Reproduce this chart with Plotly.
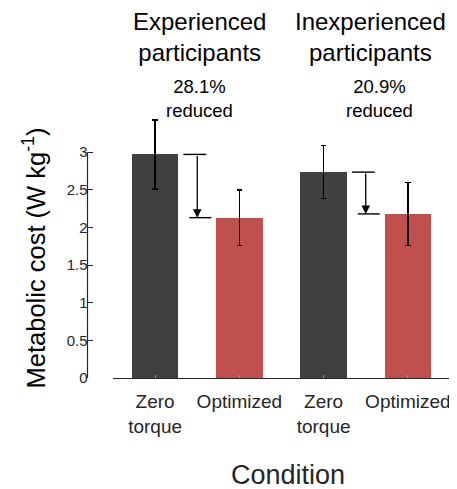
import plotly.graph_objects as go

# ---- data ----
categories = ["Zero<br>torque", "Optimized", "Zero<br>torque", "Optimized"]
positions = [1, 2, 3, 4]
means = [2.97, 2.13, 2.735, 2.18]
sds = [0.46, 0.37, 0.35, 0.42]
bar_colors = ["#404040", "#C0504D", "#404040", "#C0504D"]
group_titles = ["Experienced<br>participants", "Inexperienced<br>participants"]
group_title_x = [1.53, 3.56]
reductions = ["28.1%<br>reduced", "20.9%<br>reduced"]
reduction_x = [1.53, 3.66]
y_ticks = [0, 0.5, 1, 1.5, 2, 2.5, 3]
y_ticktext = ["0", "0.5", "1", "1.5", "2", "2.5", "3"]

FONT = "Liberation Sans, Arial, Helvetica, sans-serif"
TXT = "#262626"

fig = go.Figure()
fig.add_trace(go.Bar(
    x=positions, y=means, width=0.55,
    marker=dict(color=bar_colors, line=dict(width=0)),
    error_y=dict(type="data", array=sds, visible=True, color="black",
                 thickness=1.4, width=2.7),
    showlegend=False, hoverinfo="skip",
))

shapes = []
annotations = []
# reduction arrows between Zero torque (i) and Optimized (i+1)
for g in range(2):
    i0 = 2 * g
    top = means[i0]
    bot = means[i0 + 1]
    xa = positions[i0] + 0.5
    shapes.append(dict(type="line", xref="x", yref="y",
                       x0=xa - 0.165, x1=xa + 0.107, y0=top, y1=top,
                       line=dict(color="black", width=1.4)))
    shapes.append(dict(type="line", xref="x", yref="y",
                       x0=xa - 0.095, x1=xa + 0.167, y0=bot, y1=bot,
                       line=dict(color="black", width=1.4)))
    annotations.append(dict(x=xa, y=bot, ax=xa, ay=top, xref="x", yref="y",
                            axref="x", ayref="y", text="", showarrow=True,
                            arrowhead=2, arrowsize=1.3, arrowwidth=1.3,
                            arrowcolor="black", standoff=0, startstandoff=0))
    annotations.append(dict(x=group_title_x[g], y=1, xref="x", yref="paper",
                            yshift=101, yanchor="top", xanchor="center",
                            text=group_titles[g], showarrow=False,
                            font=dict(family=FONT, size=24, color="black")))
    annotations.append(dict(x=reduction_x[g], y=1, xref="x", yref="paper",
                            yshift=33, yanchor="top", xanchor="center",
                            text=reductions[g], showarrow=False,
                            font=dict(family=FONT, size=18.5, color="black")))

# y-axis line (offset MATLAB style), only from 0 to 3
shapes.append(dict(type="line", xref="paper", yref="y",
                   x0=0.0705, x1=0.0705, y0=y_ticks[0], y1=y_ticks[-1],
                   line=dict(color=TXT, width=1.2)))

annotations.append(dict(x=-0.0667, y=(489 - 111 - 257.5) / 271, xref="paper",
                        yref="paper", text="Metabolic cost (W kg<sup>-1</sup>)",
                        textangle=-90, showarrow=False, xanchor="center",
                        yanchor="middle",
                        font=dict(family=FONT, size=25.5, color="black")))
annotations.append(dict(x=(288 - 60) / 390, y=0, xref="paper", yref="paper",
                        yshift=-80, yanchor="top", xanchor="center",
                        text="Condition", showarrow=False,
                        font=dict(family=FONT, size=27, color=TXT)))

fig.update_layout(
    width=449, height=481,
    margin=dict(l=52, r=7, t=99, b=111),
    paper_bgcolor="white", plot_bgcolor="white",
    font=dict(family=FONT, color=TXT),
    shapes=shapes, annotations=annotations,
    bargap=0,
    xaxis=dict(domain=[0.1359, 1], range=[0.5, 4.5],
               tickvals=positions, ticktext=categories,
               ticks="inside", ticklen=3, tickcolor="#999999", tickwidth=1,
               showline=True, linecolor=TXT, linewidth=1.3,
               showgrid=False, zeroline=False, ticklabelstandoff=6,
               tickfont=dict(family=FONT, size=19, color=TXT)),
    yaxis=dict(range=[0, 3.6], anchor="free", position=0.0705,
               tickvals=y_ticks, ticktext=y_ticktext,
               ticks="inside", ticklen=5, tickcolor=TXT, tickwidth=1.2,
               showline=False, showgrid=False, zeroline=False,
               tickfont=dict(family=FONT, size=15, color=TXT)),
)

fig.write_html("out.html")
